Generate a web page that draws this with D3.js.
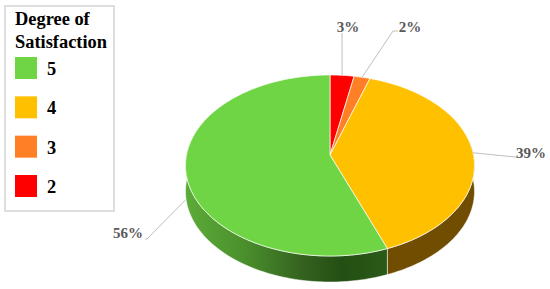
<!DOCTYPE html>
<html>
<head>
<meta charset="utf-8">
<script src="https://cdn.jsdelivr.net/npm/d3@7"></script>
<style>
  html, body { margin: 0; padding: 0; background: #fff; }
  svg { display: block; }
  text { font-family: "Liberation Serif", serif; font-weight: bold; }
</style>
</head>
<body>
<div id="chart"></div>
<script>
"use strict";

// drawing order is clockwise from 12 o'clock
const grades = ["2", "3", "4", "5"];
const shares = [3, 2, 39.2, 55.8];
const labels = ["3%", "2%", "39%", "56%"];
const topColors = ["#ff0000", "#ff7f27", "#ffc000", "#6fd544"];
const legendGrades = ["5", "4", "3", "2"];
const legendTitle = ["Degree of", "Satisfaction"];

const width = 550, height = 289;

const svg = d3.select("#chart").append("svg")
  .attr("width", width)
  .attr("height", height);

// Perspective of the tilted disc
const apex = [330, 155], a = 143.5, b = 89.3, k = 0.116, depth = 26;

function project(angle, dy = 0) {
  let u = Math.sin(angle), v = -Math.cos(angle);
  let w = 1 - k * v;
  return [apex[0] + a * u / w, apex[1] + b * v / w + dy];
}

function rim(a0, a1, dy = 0) {
  let n = Math.max(2, Math.ceil((a1 - a0) / 0.02));
  return d3.range(n + 1).map(i => project(a0 + (a1 - a0) * i / n, dy));
}

const line = d3.line();

const arcs = d3.pie().sort(null).value(d => d)(shares);

// Angles where the wall is visible: the rim's widest points
const wallFrom = Math.PI / 2 - 0.117, wallTo = 3 * Math.PI / 2 + 0.117;

const defs = svg.append("defs");
const greenWall = defs.append("linearGradient")
  .attr("id", "greenWall")
  .attr("gradientUnits", "userSpaceOnUse")
  .attr("x1", 185).attr("x2", 387)
  .attr("y1", 0).attr("y2", 0);
[[0, "#5cab38"], [0.3, "#4a8f2c"], [0.6, "#335f1e"], [0.78, "#244f14"], [1, "#2a5a18"]]
  .forEach(s => greenWall.append("stop").attr("offset", s[0]).attr("stop-color", s[1]));

const wallColors = ["#8c0000", "#8c4a14", "#704d00", "url(#greenWall)"];

// Walls
svg.append("g").selectAll("path")
  .data(arcs)
  .join("path")
  .attr("d", d => {
    let a0 = Math.max(d.startAngle, wallFrom), a1 = Math.min(d.endAngle, wallTo);
    if (a1 <= a0) return null;
    let pts = rim(a0, a1).concat(rim(a0, a1, depth).reverse());
    return line(pts) + "Z";
  })
  .attr("fill", (d, i) => wallColors[i])
  .attr("stroke", "#fff")
  .attr("stroke-width", 0.5);

// Top face
svg.append("g").selectAll("path")
  .data(arcs)
  .join("path")
  .attr("d", d => line([apex].concat(rim(d.startAngle, d.endAngle))) + "Z")
  .attr("fill", (d, i) => topColors[i])
  .attr("stroke", "#fff")
  .attr("stroke-width", 0.7)
  .attr("stroke-linejoin", "round");

// Leader lines and data labels, placed by hand like the original
const leaderEnds = [[342, 33], [393, 31], [515, 157], [147, 239]];
const leaderTails = [[342, 33], [398, 31], [517, 157], [145, 239]];
const labelPos = [[348, 32, "middle"], [410, 32, "middle"], [531, 158, "middle"], [128, 238, "middle"]];
const leaderDrop = [0, 0, 0, 28];

svg.append("g").selectAll("path")
  .data(arcs)
  .join("path")
  .attr("d", (d, i) => line([
    project((d.startAngle + d.endAngle) / 2, leaderDrop[i]),
    leaderEnds[i],
    leaderTails[i]
  ]))
  .attr("fill", "none")
  .attr("stroke", "#bfbfbf")
  .attr("stroke-width", 1);

svg.append("g").selectAll("text")
  .data(labels)
  .join("text")
  .attr("x", (d, i) => labelPos[i][0])
  .attr("y", (d, i) => labelPos[i][1])
  .attr("text-anchor", (d, i) => labelPos[i][2])
  .attr("font-size", 15)
  .attr("fill", "#595959")
  .text(d => d);

// Legend
const legend = svg.append("g");
legend.append("rect")
  .attr("x", 5).attr("y", 6)
  .attr("width", 109).attr("height", 205)
  .attr("fill", "#fff")
  .attr("stroke", "#dedede")
  .attr("stroke-width", 2);

legend.selectAll(".title")
  .data(legendTitle)
  .join("text")
  .attr("class", "title")
  .attr("x", 15)
  .attr("y", (d, i) => 25 + i * 23)
  .attr("font-size", 18.4)
  .attr("fill", "#000")
  .text(d => d);

const legendY = d3.scalePoint().domain(legendGrades).range([57, 175]);
const colorOf = d => topColors[grades.indexOf(d)];

legend.selectAll(".swatch")
  .data(legendGrades)
  .join("rect")
  .attr("class", "swatch")
  .attr("x", 15)
  .attr("y", d => legendY(d))
  .attr("width", 22)
  .attr("height", 22)
  .attr("fill", colorOf);

legend.selectAll(".grade")
  .data(legendGrades)
  .join("text")
  .attr("class", "grade")
  .attr("x", 47)
  .attr("y", d => legendY(d) + 18)
  .attr("font-size", 18.4)
  .attr("fill", "#000")
  .text(d => d);
</script>
</body>
</html>
